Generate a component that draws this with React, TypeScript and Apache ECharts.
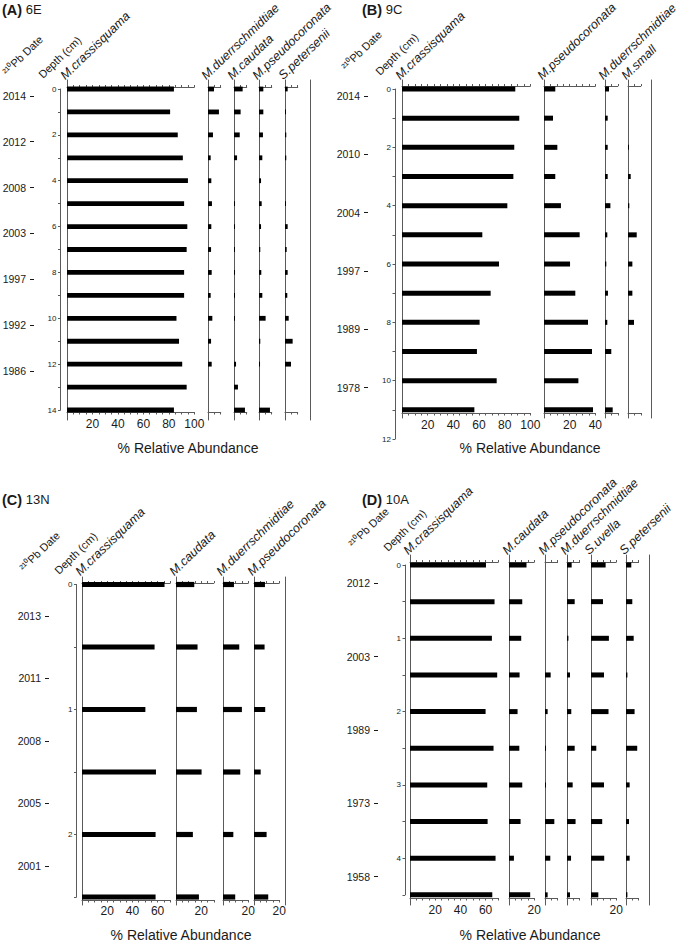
import React, { useEffect, useRef } from 'react';
import * as echarts from 'echarts';

// ---------- DATA ----------
// Panel A: core 6E
const A_depth = [0, 1, 2, 3, 4, 5, 6, 7, 8, 9, 10, 11, 12, 13, 14];
const A_crassisquama = [84, 81, 87, 91, 95, 92, 94.5, 94, 92, 92, 86, 88, 90.5, 94, 84];
const A_duerrschmidtiae = [4.7, 8.6, 3.9, 2.1, 2.6, 3.1, 2.6, 2.4, 2.9, 2.1, 3.4, 2.4, 2.9, 0, 0];
const A_caudata = [6.8, 5.2, 4.5, 2.4, 0, 0.8, 0.8, 0.5, 0.8, 0.5, 0.5, 0, 1.6, 3.1, 8.6];
const A_pseudocoronata = [3.4, 3.4, 3.1, 2.6, 1.6, 2.1, 1.6, 1.0, 1.8, 2.6, 5.2, 1.0, 0.8, 0, 8.6];
const A_petersenii = [2.1, 0.5, 1.0, 1.0, 0, 0.5, 2.1, 1.3, 2.1, 1.8, 2.9, 6.0, 4.7, 0, 0];
const A_dates = ['2014', '2012', '2008', '2003', '1997', '1992', '1986'];

// Panel B: core 9C
const B_depth = [0, 1, 2, 3, 4, 5, 6, 7, 8, 9, 10, 11];
const B_crassisquama = [88.3, 91.4, 87.5, 86.8, 82.1, 62.6, 75.6, 69.1, 60.5, 58.4, 73.8, 56.4];
const B_pseudocoronata = [8.8, 7.0, 10.4, 8.8, 13.2, 27.8, 20.3, 24.4, 34.3, 37.4, 26.8, 38.2];
const B_duerrschmidtiae = [3.1, 2.1, 2.1, 2.1, 4.2, 1.8, 1.0, 2.3, 1.8, 4.9, 0, 6.0];
const B_small = [0, 0, 0.5, 2.1, 1.0, 6.8, 3.4, 3.4, 4.7, 0, 0, 0];
const B_dates = ['2014', '2010', '2004', '1997', '1989', '1978'];

// Panel C: core 13N
const C_depth = [0, 0.5, 1, 1.5, 2, 2.5];
const C_crassisquama = [65.5, 57.6, 50.3, 58.7, 58.4, 58.4];
const C_caudata = [14.5, 17.1, 16.6, 20.3, 13.4, 18.2];
const C_duerrschmidtiae = [8.7, 12.9, 15.0, 13.7, 8.2, 9.7];
const C_pseudocoronata = [8.7, 8.4, 8.9, 5.3, 10.0, 11.3];
const C_dates = ['2013', '2011', '2008', '2005', '2001'];

// Panel D: core 10A
const D_depth = [0, 0.5, 1, 1.5, 2, 2.5, 3, 3.5, 4, 4.5];
const D_crassisquama = [60.3, 67.1, 65.0, 69.2, 60.0, 66.3, 61.3, 61.6, 67.9, 65.3];
const D_caudata = [13.9, 10.5, 9.7, 8.4, 6.8, 8.2, 10.5, 9.2, 3.9, 16.8];
const D_pseudocoronata = [0, 0, 0, 4.5, 2.1, 0.8, 0.8, 7.4, 4.2, 2.1];
const D_duerrschmidtiae = [3.7, 6.1, 1.1, 2.4, 3.4, 6.1, 4.5, 6.8, 3.2, 2.4];
const D_uvella = [11.6, 9.5, 14.2, 10.3, 13.9, 4.2, 10.3, 8.9, 10.5, 5.8];
const D_petersenii = [4.2, 5.0, 6.1, 1.1, 6.8, 8.9, 2.9, 2.4, 2.9, 1.1];
const D_dates = ['2012', '2003', '1989', '1973', '1958'];

// ---------- LAYOUT ----------
const FONT = '"Liberation Sans", Arial, Helvetica, sans-serif';
const AXIS = '#5a5a5a';
const TXT = '#1a1a1a';
const ROT = (44 * Math.PI) / 180;

type Sp = { name: string; values: number[]; x: number; max: number; labels: number[] };
type Panel = {
  letter: string; site: string; tx: number; ty: number;
  depths: number[]; depthMax: number; depthInterval: number; depthLabel: (v: number) => boolean;
  depthTop: number; pxPerCm: number; depthAxisX: number;
  lineTop: number; lineBottom: number; axisTopY: number; axisBottomY: number;
  dates: string[]; dateStep: number; dateOffset: number; dateAxisX: number;
  species: Sp[]; pxPerPct: number; borderX: number; headerY: number;
  pbPos: [number, number]; depthPos: [number, number]; xlabel: [number, number];
  barH: number; labelMargin: number;
};

const panels: Panel[] = [
  {
    letter: '(A)', site: '6E', tx: 2, ty: 2,
    depths: A_depth, depthMax: 14, depthInterval: 1, depthLabel: (v) => v % 2 === 0,
    depthTop: 89, pxPerCm: 22.93, depthAxisX: 60.5,
    lineTop: 80, lineBottom: 420, axisTopY: 87, axisBottomY: 412,
    dates: A_dates, dateStep: 2, dateOffset: 0.3, dateAxisX: 33,
    species: [
      { name: 'M.crassisquama', values: A_crassisquama, x: 67, max: 100, labels: [20, 40, 60, 80, 100] },
      { name: 'M.duerrschmidtiae', values: A_duerrschmidtiae, x: 208, max: 10, labels: [] },
      { name: 'M.caudata', values: A_caudata, x: 234, max: 10, labels: [] },
      { name: 'M.pseudocoronata', values: A_pseudocoronata, x: 259, max: 10, labels: [] },
      { name: 'S.petersenii', values: A_petersenii, x: 285, max: 10, labels: [] },
    ],
    pxPerPct: 1.273, borderX: 310, headerY: 82,
    pbPos: [8, 77], depthPos: [44, 80], xlabel: [188, 448], barH: 4.8, labelMargin: 6,
  },
  {
    letter: '(B)', site: '9C', tx: 362, ty: 2,
    depths: B_depth, depthMax: 12, depthInterval: 1, depthLabel: (v) => v % 2 === 0,
    depthTop: 89, pxPerCm: 29.17, depthAxisX: 395,
    lineTop: 80, lineBottom: 418, axisTopY: 86, axisBottomY: 413,
    dates: B_dates, dateStep: 2, dateOffset: 0.24, dateAxisX: 368,
    species: [
      { name: 'M.crassisquama', values: B_crassisquama, x: 402, max: 100, labels: [20, 40, 60, 80, 100] },
      { name: 'M.pseudocoronata', values: B_pseudocoronata, x: 544, max: 40, labels: [20, 40] },
      { name: 'M.duerrschmidtiae', values: B_duerrschmidtiae, x: 605, max: 10, labels: [] },
      { name: 'M.small', values: B_small, x: 628, max: 10, labels: [] },
    ],
    pxPerPct: 1.283, borderX: 651, headerY: 82,
    pbPos: [347, 72], depthPos: [381, 77], xlabel: [530, 448], barH: 5, labelMargin: 6,
  },
  {
    letter: '(C)', site: '13N', tx: 2, ty: 492,
    depths: C_depth, depthMax: 2.5, depthInterval: 0.5, depthLabel: (v) => Number.isInteger(v),
    depthTop: 584.5, pxPerCm: 125, depthAxisX: 76.5,
    lineTop: 577, lineBottom: 905, axisTopY: 583, axisBottomY: 900,
    dates: C_dates, dateStep: 0.5, dateOffset: 0.25, dateAxisX: 49,
    species: [
      { name: 'M.crassisquama', values: C_crassisquama, x: 82, max: 70, labels: [20, 40, 60] },
      { name: 'M.caudata', values: C_caudata, x: 176, max: 30, labels: [20] },
      { name: 'M.duerrschmidtiae', values: C_duerrschmidtiae, x: 223, max: 20, labels: [20] },
      { name: 'M.pseudocoronata', values: C_pseudocoronata, x: 254, max: 20, labels: [20] },
    ],
    pxPerPct: 1.26, borderX: 285, headerY: 578,
    pbPos: [25, 573], depthPos: [60, 576], xlabel: [181, 935], barH: 5.2, labelMargin: 5,
  },
  {
    letter: '(D)', site: '10A', tx: 362, ty: 492,
    depths: D_depth, depthMax: 4.5, depthInterval: 0.5, depthLabel: (v) => Number.isInteger(v),
    depthTop: 565, pxPerCm: 73.3, depthAxisX: 405,
    lineTop: 555, lineBottom: 905, axisTopY: 562, axisBottomY: 898,
    dates: D_dates, dateStep: 1, dateOffset: 0.25, dateAxisX: 378,
    species: [
      { name: 'M.crassisquama', values: D_crassisquama, x: 410, max: 70, labels: [20, 40, 60] },
      { name: 'M.caudata', values: D_caudata, x: 509, max: 20, labels: [20] },
      { name: 'M.pseudocoronata', values: D_pseudocoronata, x: 545, max: 10, labels: [] },
      { name: 'M.duerrschmidtiae', values: D_duerrschmidtiae, x: 567, max: 10, labels: [] },
      { name: 'S.uvella', values: D_uvella, x: 591, max: 20, labels: [20] },
      { name: 'S.petersenii', values: D_petersenii, x: 626, max: 10, labels: [] },
    ],
    pxPerPct: 1.26, borderX: 649, headerY: 557,
    pbPos: [354, 549], depthPos: [389, 553], xlabel: [530, 935], barH: 5, labelMargin: 6,
  },
];

function buildOption() {
  const grid: any[] = [];
  const xAxis: any[] = [];
  const yAxis: any[] = [];
  const series: any[] = [];
  const graphic: any[] = [];

  const rotText = (text: string, x: number, y: number, size: number, italic: boolean) => ({
    type: 'text', x, y, rotation: ROT, silent: true,
    style: {
      text, fill: TXT, fontSize: size, fontFamily: FONT, fontStyle: italic ? 'italic' : 'normal',
      align: 'left', verticalAlign: 'bottom',
    },
  });

  panels.forEach((p) => {
    // title
    graphic.push({
      type: 'text', x: p.tx, y: p.ty, silent: true,
      style: {
        text: `{b|${p.letter}} ${p.site}`, fill: TXT, fontSize: 13, fontFamily: FONT,
        align: 'left', verticalAlign: 'top',
        rich: { b: { fontWeight: 'bold', fontSize: 14.5, fontFamily: FONT, fill: TXT } },
      },
    });
    graphic.push(rotText('²¹⁰Pb Date', p.pbPos[0], p.pbPos[1], 11, false));
    graphic.push(rotText('Depth (cm)', p.depthPos[0], p.depthPos[1], 11, false));
    graphic.push({
      type: 'text', x: p.xlabel[0], y: p.xlabel[1], silent: true,
      style: { text: '% Relative Abundance', fill: TXT, fontSize: 14, fontFamily: FONT, align: 'center', verticalAlign: 'middle' },
    });

    // depth axis
    const gD = grid.length;
    grid.push({ left: p.depthAxisX, top: p.depthTop, width: 1, height: p.depthMax * p.pxPerCm });
    xAxis.push({ gridIndex: gD, type: 'value', show: false });
    yAxis.push({
      gridIndex: gD, type: 'value', inverse: true, min: 0, max: p.depthMax, interval: p.depthInterval,
      axisLine: { show: true, lineStyle: { color: AXIS, width: 1 } },
      axisTick: { show: true, length: 2.5, lineStyle: { color: AXIS } },
      axisLabel: { fontSize: 8, margin: 4, color: TXT, fontFamily: FONT, formatter: (v: number) => (p.depthLabel(v) ? String(v) : '') },
      splitLine: { show: false },
    });

    // date axis
    const gT = grid.length;
    grid.push({
      left: p.dateAxisX, top: p.depthTop + p.dateOffset * p.pxPerCm, width: 1,
      height: (p.dates.length - 1) * p.dateStep * p.pxPerCm,
    });
    xAxis.push({ gridIndex: gT, type: 'value', show: false });
    yAxis.push({
      gridIndex: gT, type: 'category', inverse: true, boundaryGap: false, data: p.dates,
      axisLine: { show: false },
      axisTick: { show: true, length: 4, alignWithLabel: true, lineStyle: { color: TXT } },
      axisLabel: { fontSize: 10.5, margin: 8, color: TXT, fontFamily: FONT },
      splitLine: { show: false },
    });

    // species grids
    const yMin = (p.lineTop - p.depthTop) / p.pxPerCm;
    const yMax = (p.lineBottom - p.depthTop) / p.pxPerCm;
    p.species.forEach((sp) => {
      const g = grid.length;
      grid.push({ left: sp.x, top: p.lineTop, width: sp.max * p.pxPerPct, height: p.lineBottom - p.lineTop });
      const xb = xAxis.length;
      xAxis.push({
        gridIndex: g, type: 'value', position: 'bottom', min: 0, max: sp.max, interval: 5,
        offset: -(p.lineBottom - p.axisBottomY),
        axisLine: { show: true, onZero: false, lineStyle: { color: AXIS, width: 1 } },
        axisTick: { show: true, length: 2.5, lineStyle: { color: AXIS } },
        axisLabel: {
          fontSize: 12, margin: p.labelMargin, color: TXT, fontFamily: FONT,
          showMinLabel: true, showMaxLabel: true,
          formatter: (v: number) => (sp.labels.indexOf(v) >= 0 ? String(v) : ''),
        },
        splitLine: { show: false },
      });
      xAxis.push({
        gridIndex: g, type: 'value', position: 'top', min: 0, max: sp.max, interval: 5,
        offset: -(p.axisTopY - p.lineTop),
        axisLine: { show: true, onZero: false, lineStyle: { color: AXIS, width: 1 } },
        axisTick: { show: true, length: 2, lineStyle: { color: AXIS } },
        axisLabel: { show: false },
        splitLine: { show: false },
      });
      const yi = yAxis.length;
      yAxis.push({
        gridIndex: g, type: 'value', inverse: true, min: yMin, max: yMax,
        axisLine: { show: true, onZero: false, lineStyle: { color: AXIS, width: 1 } },
        axisTick: { show: false }, axisLabel: { show: false }, splitLine: { show: false },
      });
      const h = p.barH;
      series.push({
        type: 'custom', xAxisIndex: xb, yAxisIndex: yi, silent: true, clip: false,
        data: sp.values.map((v, i) => [v, p.depths[i]]),
        renderItem: (_params: any, api: any) => {
          const v = api.value(0) as number;
          const d = api.value(1) as number;
          if (!v) return null;
          const a = api.coord([0, d]);
          const b = api.coord([v, d]);
          return {
            type: 'rect',
            shape: { x: a[0], y: a[1] - h / 2, width: Math.max(b[0] - a[0], 1), height: h },
            style: { fill: '#000' },
          };
        },
      });
      graphic.push(rotText(sp.name, sp.x, p.headerY, 12.5, true));
    });

    // right border line
    const gB = grid.length;
    grid.push({ left: p.borderX, top: p.lineTop, width: 1, height: p.lineBottom - p.lineTop });
    xAxis.push({ gridIndex: gB, type: 'value', show: false });
    yAxis.push({
      gridIndex: gB, type: 'value', min: 0, max: 1,
      axisLine: { show: true, lineStyle: { color: AXIS, width: 1 } },
      axisTick: { show: false }, axisLabel: { show: false }, splitLine: { show: false },
    });
  });

  return {
    animation: false,
    backgroundColor: '#ffffff',
    textStyle: { fontFamily: FONT },
    grid, xAxis, yAxis, series, graphic,
  };
}

export default function App() {
  const ref = useRef<HTMLDivElement>(null);
  useEffect(() => {
    if (!ref.current) return;
    const chart = echarts.init(ref.current, undefined, { renderer: 'svg' });
    chart.setOption(buildOption() as any);
    return () => chart.dispose();
  }, []);
  return (
    <div
      ref={ref}
      style={{ position: 'absolute', left: 0, top: 0, width: 682, height: 945, background: '#fff' }}
    />
  );
}
